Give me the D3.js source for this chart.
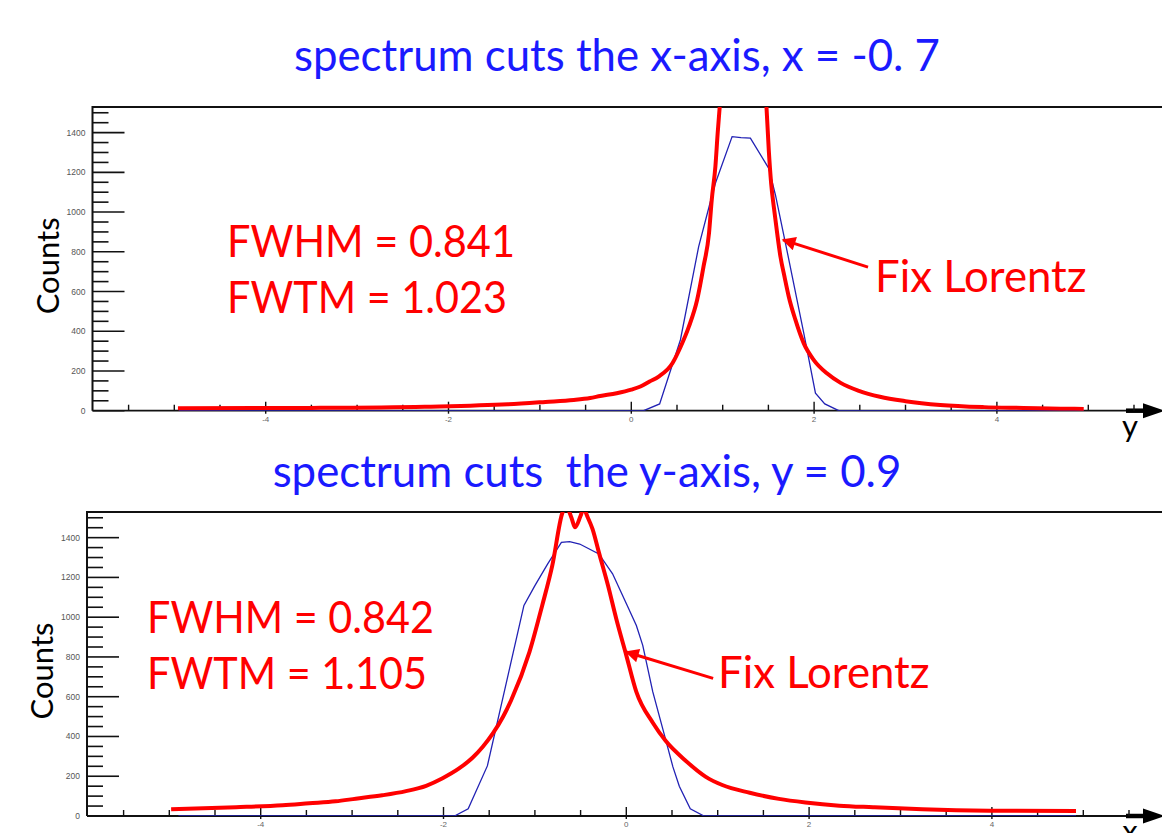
<!DOCTYPE html>
<html>
<head>
<meta charset="utf-8">
<script src="https://cdn.jsdelivr.net/npm/d3@7"></script>
<style>
  html, body { margin: 0; padding: 0; background: #ffffff; }
  svg { display: block; }
</style>
</head>
<body>
<div id="chart"></div>
<script>
// ---------------- DATA ----------------
const titles = ["spectrum cuts the x-axis, x = -0. 7", "spectrum cuts \u00A0the y-axis, y = 0.9"];
const fwhmLabels = ["FWHM = 0.841", "FWHM = 0.842"];
const fwtmLabels = ["FWTM = 1.023", "FWTM = 1.105"];
const fitLabel = "Fix Lorentz";
const yAxisTitle = "Counts";
const xAxisTitles = ["y", "x"];

const yMajorTicks = [0, 200, 400, 600, 800, 1000, 1200, 1400];
const yMinorTicks = [50, 100, 150, 250, 300, 350, 450, 500, 550, 650, 700, 750, 850, 900, 950,
                     1050, 1100, 1150, 1250, 1300, 1350, 1450, 1500];
const xMajorTicks = [-4, -2, 0, 2, 4];
const xMinorTicks = [-5.5, -5, -4.5, -3.5, -3, -2.5, -1.5, -1, -0.5, 0.5, 1, 1.5, 2.5, 3, 3.5, 4.5, 5, 5.5];

// top panel: measured spectrum (blue)
const topDataX      = [-4.95, 0.135, 0.31, 0.537, 0.737, 0.865, 0.92, 1.103, 1.20, 1.303, 1.504, 1.577, 1.687, 1.887, 2.015, 2.117, 2.27, 4.95];
const topDataCounts = [0,     0,     34,   356,   826,   1052,  1145, 1380,  1375, 1372,  1220,  1086,  843,   390,   88,    34,    0,    0];

// top panel: Lorentz fit (red)
const topFitX      = [-4.96, -3.5, -2.26, -1.35, -0.94, -0.63, -0.45, -0.34, -0.16, 0.0, 0.10, 0.20, 0.30, 0.45, 0.54, 0.63, 0.72, 0.79, 0.85, 0.88, 0.92, 0.945, 0.967, 1.0, 1.1, 1.23, 1.36, 1.45, 1.479, 1.504, 1.53, 1.559, 1.596, 1.632, 1.676, 1.723, 1.796, 1.887, 1.997, 2.14, 2.29, 2.49, 2.72, 3.0, 3.38, 3.86, 4.29, 4.70, 4.95];
const topFitCounts = [12,    14,   20,    32,    44,    54,    64,    74,    88,    106, 122,  147,  172,  239,  322,  423,  557,  725,  893,  1061, 1229, 1397,  1528,  1700, 1950, 2050, 1950, 1700, 1528,  1313,  1145, 1027,  893,   775,   675,   574,   457,   339,   255,   188,  140,  100,  70,   48,  29,   18,   14,   10,   9];

// bottom panel: measured spectrum (blue)
const botDataX      = [-4.9, -1.88, -1.73, -1.52, -1.12, -1.0, -0.86, -0.71, -0.62, -0.51, -0.30, -0.15, 0.01, 0.11, 0.18, 0.29, 0.43, 0.51, 0.58, 0.70, 0.85, 4.92];
const botDataCounts = [0,    0,     36,    252,   1059,  1159, 1268,  1376,  1380,  1368,  1318,  1218,  1059, 958,  858,  624,  385,  247,  150,  36,   0,    0];

// bottom panel: Lorentz fit (red)
const botFitX      = [-4.98, -4.27, -3.76, -3.47, -3.18, -2.96, -2.67, -2.41, -2.19, -2.01, -1.83, -1.68, -1.57, -1.46, -1.35, -1.26, -1.06, -0.92, -0.81, -0.70, -0.66, -0.60, -0.56, -0.50, -0.47, -0.42, -0.37, -0.30, -0.20, -0.11, 0.0, 0.11, 0.29, 0.43, 0.64, 0.87, 1.05, 1.35, 1.67, 1.96, 2.33, 2.70, 3.24, 3.97, 4.92];
const botFitCounts = [34,    44,    54,    64,    74,    87,    104,   125,   152,   190,   239,   294,   348,   415,   498,   582,   824,   1059,  1259,  1524,  1560,  1500,  1452,  1510,  1545,  1500,  1444,  1326,  1159,  992,   808, 624,  469,  378,  282,  197,  156,  117,  86,   68,   52,   44,   34,   27,   25];

const arrowTips  = [[1.66, 860], [0.0, 825]];
const arrowTails = [[2.59, 723], [0.95, 692]];

// ---------------- LAYOUT ----------------
const W = 1162, H = 833;
const FONT = "Lato, 'Open Sans', 'Liberation Sans', sans-serif";
const panels = [
  { left: 92.5, top: 107, axisY: 410.7, zero: 631.3, titleX: 617, titleY: 71,
    fwhmX: 227, fwhmY: 257, fwtmY: 313, fitX: 875, fitY: 292, axisTitleY: 437,
    fwhmW: 288, fwtmW: 280,
    dataX: topDataX, dataC: topDataCounts, fitXs: topFitX, fitC: topFitCounts },
  { left: 87, top: 512, axisY: 816, zero: 626.3, titleX: 587, titleY: 487,
    fwhmX: 147, fwhmY: 633, fwtmY: 689, fitX: 718, fitY: 688, axisTitleY: 842,
    fwhmW: 287, fwtmW: 280,
    dataX: botDataX, dataC: botDataCounts, fitXs: botFitX, fitC: botFitCounts }
];
const unit = 91.4;        // px per x unit
const yMax = 1529;

const svg = d3.select("#chart").append("svg")
  .attr("width", W).attr("height", H)
  .attr("viewBox", `0 0 ${W} ${H}`);

svg.append("defs").append("marker")
  .attr("id", "redhead")
  .attr("viewBox", "0 0 10 10")
  .attr("refX", 9).attr("refY", 5)
  .attr("markerWidth", 5.2).attr("markerHeight", 4.6)
  .attr("markerUnits", "strokeWidth")
  .attr("orient", "auto")
  .append("path").attr("d", "M0,0 L10,5 L0,10 Z").attr("fill", "#ff0000");

// reference text for sizing
const probe = svg.append("text").attr("font-family", FONT).attr("font-size", 48).text(titles[0]);
const k = 646 / probe.node().getComputedTextLength();
probe.remove();
const big = 48 * k;

panels.forEach((p, i) => {
  const x = d3.scaleLinear().domain([0, 1]).range([p.zero, p.zero + unit]);
  const y = d3.scaleLinear().domain([0, yMax]).range([p.axisY, p.top]);
  const g = svg.append("g");

  const clipId = "clip" + i;
  svg.select("defs").append("clipPath").attr("id", clipId)
    .append("rect").attr("x", p.left).attr("y", p.top).attr("width", W - p.left).attr("height", p.axisY - p.top);

  // title
  svg.append("text")
    .attr("x", p.titleX).attr("y", p.titleY)
    .attr("text-anchor", "middle")
    .attr("font-family", FONT).attr("font-size", big)
    .attr("fill", "#1a1aff")
    .text(titles[i]);

  // frame top and left
  g.append("line").attr("x1", p.left).attr("x2", W).attr("y1", p.top).attr("y2", p.top)
    .attr("stroke", "#111").attr("stroke-width", 2);
  g.append("line").attr("x1", p.left).attr("x2", p.left).attr("y1", p.top - 1).attr("y2", p.axisY)
    .attr("stroke", "#111").attr("stroke-width", 2);

  // y ticks (inside)
  g.selectAll(".ymaj").data(yMajorTicks).join("line")
    .attr("x1", p.left).attr("x2", p.left + 32)
    .attr("y1", d => y(d)).attr("y2", d => y(d))
    .attr("stroke", "#111").attr("stroke-width", 1.6);
  g.selectAll(".ymin").data(yMinorTicks).join("line")
    .attr("x1", p.left).attr("x2", p.left + 16)
    .attr("y1", d => y(d)).attr("y2", d => y(d))
    .attr("stroke", "#111").attr("stroke-width", 1.6);
  g.selectAll(".ylab").data(yMajorTicks).join("text")
    .attr("x", p.left - 7).attr("y", d => y(d) + 3)
    .attr("text-anchor", "end")
    .attr("font-family", "'Liberation Sans Narrow', 'Liberation Sans', sans-serif")
    .attr("font-size", 8.5).attr("fill", "#555")
    .text(d => d);

  // x axis line
  g.append("line").attr("x1", p.left).attr("x2", W - 30).attr("y1", p.axisY).attr("y2", p.axisY)
    .attr("stroke", "#111").attr("stroke-width", 1.8);
  g.append("line").attr("x1", W - 36).attr("x2", W - 12).attr("y1", p.axisY).attr("y2", p.axisY)
    .attr("stroke", "#000").attr("stroke-width", 4.5);
  g.append("path")
    .attr("d", `M${W - 19},${p.axisY - 7.5} L${W + 3},${p.axisY} L${W - 19},${p.axisY + 7.5} Z`)
    .attr("fill", "#000");

  // x ticks
  g.selectAll(".xmaj").data(xMajorTicks).join("line")
    .attr("x1", d => x(d)).attr("x2", d => x(d))
    .attr("y1", p.axisY - 9).attr("y2", p.axisY + 3)
    .attr("stroke", "#111").attr("stroke-width", 1.4);
  g.selectAll(".xmin").data(xMinorTicks).join("line")
    .attr("x1", d => x(d)).attr("x2", d => x(d))
    .attr("y1", p.axisY - 6).attr("y2", p.axisY)
    .attr("stroke", "#111").attr("stroke-width", 1.4);
  g.selectAll(".xlab").data(xMajorTicks).join("text")
    .attr("x", d => x(d)).attr("y", p.axisY + 11)
    .attr("text-anchor", "middle")
    .attr("font-family", "'Liberation Sans Narrow', 'Liberation Sans', sans-serif")
    .attr("font-size", 8).attr("fill", "#666")
    .text(d => d);

  // axis titles
  svg.append("text")
    .attr("transform", `translate(${p.left - 34},${(p.top + p.axisY) / 2 + 7}) rotate(-90)`)
    .attr("text-anchor", "middle")
    .attr("font-family", FONT).attr("font-size", 34 * k).attr("fill", "#000")
    .text(yAxisTitle);
  svg.append("text")
    .attr("x", 1130).attr("y", p.axisTitleY)
    .attr("text-anchor", "middle")
    .attr("font-family", FONT).attr("font-size", 34 * k).attr("fill", "#000")
    .text(xAxisTitles[i]);

  // curves
  const cg = g.append("g").attr("clip-path", `url(#${clipId})`);
  const blueLine = d3.line().x(d => x(d[0])).y(d => y(d[1])).curve(d3.curveLinear);
  cg.append("path")
    .datum(p.dataX.map((v, j) => [v, p.dataC[j]]))
    .attr("d", blueLine)
    .attr("fill", "none").attr("stroke", "#2222b4").attr("stroke-width", 1.3);
  const redLine = d3.line().x(d => x(d[0])).y(d => y(d[1])).curve(d3.curveMonotoneX);
  cg.append("path")
    .datum(p.fitXs.map((v, j) => [v, p.fitC[j]]))
    .attr("d", redLine)
    .attr("fill", "none").attr("stroke", "#ff0000").attr("stroke-width", 4)
    .attr("stroke-linejoin", "round");

  // annotations
  svg.append("text").attr("x", p.fwhmX).attr("y", p.fwhmY)
    .attr("font-family", FONT).attr("font-size", big).attr("fill", "#ff0000")
    .attr("textLength", p.fwhmW).attr("lengthAdjust", "spacingAndGlyphs")
    .text(fwhmLabels[i]);
  svg.append("text").attr("x", p.fwhmX).attr("y", p.fwtmY)
    .attr("font-family", FONT).attr("font-size", big).attr("fill", "#ff0000")
    .attr("textLength", p.fwtmW).attr("lengthAdjust", "spacingAndGlyphs")
    .text(fwtmLabels[i]);
  svg.append("text").attr("x", p.fitX).attr("y", p.fitY)
    .attr("font-family", FONT).attr("font-size", big).attr("fill", "#ff0000")
    .text(fitLabel);
  svg.append("line")
    .attr("x1", x(arrowTails[i][0])).attr("y1", y(arrowTails[i][1]))
    .attr("x2", x(arrowTips[i][0])).attr("y2", y(arrowTips[i][1]))
    .attr("stroke", "#ff0000").attr("stroke-width", 3)
    .attr("marker-end", "url(#redhead)");
});
</script>
</body>
</html>
